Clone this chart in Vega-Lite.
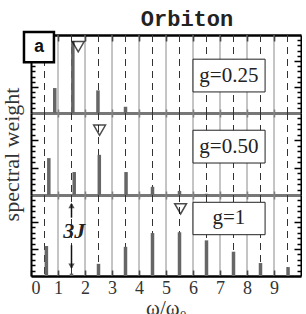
{
  "$schema": "https://vega.github.io/schema/vega-lite/v6.json",
  "background": "white",
  "padding": {"left": 0, "top": 7, "right": 0, "bottom": 0},
  "spacing": 0,
  "bounds": "flush",
  "title": {"text": "Orbiton", "font": "Liberation Mono", "fontWeight": "bold", "fontSize": 22, "color": "#222", "anchor": "middle", "offset": 0, "dx": 36},
  "config": {
    "view": {"stroke": null},
    "axis": {"labelFont": "Liberation Serif", "titleFont": "Liberation Serif", "titleFontWeight": "normal", "grid": false, "labelColor": "#333", "titleColor": "#333", "minExtent": 0}
  },
  "datasets": {
    "bars": [
      {"g": "0.25", "w": 0.88, "s": 0.32}, {"g": "0.25", "w": 1.55, "s": 0.92}, {"g": "0.25", "w": 2.48, "s": 0.29}, {"g": "0.25", "w": 3.5, "s": 0.08},
      {"g": "0.50", "w": 0.66, "s": 0.45}, {"g": "0.50", "w": 1.6, "s": 0.28}, {"g": "0.50", "w": 2.53, "s": 0.49}, {"g": "0.50", "w": 3.52, "s": 0.28}, {"g": "0.50", "w": 4.5, "s": 0.1}, {"g": "0.50", "w": 5.5, "s": 0.05}, {"g": "0.50", "w": 6.5, "s": 0.015},
      {"g": "1", "w": 0.57, "s": 0.37}, {"g": "1", "w": 1.5, "s": 0.03}, {"g": "1", "w": 2.5, "s": 0.15}, {"g": "1", "w": 3.5, "s": 0.36}, {"g": "1", "w": 4.5, "s": 0.53}, {"g": "1", "w": 5.5, "s": 0.54}, {"g": "1", "w": 6.5, "s": 0.44}, {"g": "1", "w": 7.5, "s": 0.3}, {"g": "1", "w": 8.5, "s": 0.16}, {"g": "1", "w": 9.52, "s": 0.11}
    ],
    "lines": [
      {"w": 0.5, "kind": "half"}, {"w": 1, "kind": "integer"}, {"w": 1.5, "kind": "half"}, {"w": 2, "kind": "integer"}, {"w": 2.5, "kind": "half"}, {"w": 3, "kind": "integer"}, {"w": 3.5, "kind": "half"}, {"w": 4, "kind": "integer"}, {"w": 4.5, "kind": "half"}, {"w": 5, "kind": "integer"}, {"w": 5.5, "kind": "half"}, {"w": 6, "kind": "integer"}, {"w": 6.5, "kind": "half"}, {"w": 7, "kind": "integer"}, {"w": 7.5, "kind": "half"}, {"w": 8, "kind": "integer"}, {"w": 8.5, "kind": "half"}, {"w": 9, "kind": "integer"}, {"w": 9.5, "kind": "half"}
    ],
    "peaks": [
      {"g": "0.25", "w": 1.75, "s": 0.85},
      {"g": "0.50", "w": 2.54, "s": 0.79},
      {"g": "1", "w": 5.54, "s": 0.83}
    ]
  },
  "vconcat": [
    {
      "width": 270, "height": 78,
      "layer": [
        {"data": {"name": "lines"}, "mark": {"type": "rule", "strokeWidth": 1},
         "encoding": {
           "x": {"field": "w", "type": "quantitative", "scale": {"domain": [0, 10], "nice": false},
                 "axis": {"orient": "bottom", "values": [1,2,3,4,5,6,7,8,9], "tickSize": -4, "tickColor": "#777", "tickWidth": 1.5, "labels": false, "domainColor": "#777", "domainWidth": 3, "title": null}},
           "color": {"field": "kind", "type": "nominal", "scale": {"domain": ["integer", "half"], "range": ["#8a8a8a", "#333333"]}, "legend": null},
           "strokeDash": {"field": "kind", "type": "nominal", "scale": {"domain": ["integer", "half"], "range": [[1, 0], [7, 5]]}, "legend": null}}},
        {"data": {"name": "bars"}, "transform": [{"filter": "datum.g === '0.25'"}],
         "mark": {"type": "rule", "color": "#666666", "strokeWidth": 3.5},
         "encoding": {
           "x": {"field": "w", "type": "quantitative", "scale": {"domain": [0, 10], "nice": false},
                 "axis": {"orient": "top", "values": [1,2,3,4,5,6,7,8,9], "tickSize": -6, "tickColor": "black", "tickWidth": 1.5, "labels": false, "domainColor": "black", "domainWidth": 2.5, "title": null}},
           "y": {"field": "s", "type": "quantitative", "scale": {"domain": [0, 1], "nice": false},
                 "axis": {"orient": "left", "values": [0.0667,0.1333,0.2,0.2667,0.3333,0.4,0.4667,0.5333,0.6,0.6667,0.7333,0.8,0.8667,0.9333], "tickSize": {"condition": {"test": "abs(datum.value*3 - round(datum.value*3)) < 0.01", "value": -7}, "value": -4}, "tickColor": "black", "tickWidth": 1.5, "labels": false, "domainColor": "black", "domainWidth": 2, "title": null}},
           "y2": {"datum": 0}}},
        {"data": {"name": "peaks"}, "transform": [{"filter": "datum.g === '0.25'"}],
         "mark": {"type": "point", "shape": "triangle-down", "size": 140, "filled": false, "stroke": "black", "strokeWidth": 1.5},
         "encoding": {
           "x": {"field": "w", "type": "quantitative", "scale": {"domain": [0, 10], "nice": false}, "axis": null},
           "y": {"field": "s", "type": "quantitative", "scale": {"domain": [0, 1], "nice": false},
                 "axis": {"orient": "right", "values": [0.0667,0.1333,0.2,0.2667,0.3333,0.4,0.4667,0.5333,0.6,0.6667,0.7333,0.8,0.8667,0.9333], "tickSize": {"condition": {"test": "abs(datum.value*3 - round(datum.value*3)) < 0.01", "value": -7}, "value": -4}, "tickColor": "black", "tickWidth": 1.5, "labels": false, "domainColor": "black", "domainWidth": 2, "title": null}}}},
        {"data": {"values": [{"label": "g=0.25"}]},
         "mark": {"type": "rect", "fill": "white", "stroke": "#222", "strokeWidth": 1},
         "encoding": {"x": {"datum": 6.0, "type": "quantitative", "scale": {"domain": [0, 10]}, "axis": null}, "x2": {"datum": 8.67}, "y": {"datum": 0.27, "type": "quantitative", "scale": {"domain": [0, 1]}, "axis": null}, "y2": {"datum": 0.69}}},
        {"data": {"values": [{"label": "g=0.25"}]},
         "mark": {"type": "text", "font": "Liberation Serif", "fontSize": 21, "color": "#222", "align": "center", "baseline": "middle"},
         "encoding": {"x": {"datum": 7.33, "type": "quantitative", "scale": {"domain": [0, 10]}, "axis": null}, "y": {"datum": 0.48, "type": "quantitative", "scale": {"domain": [0, 1]}, "axis": null}, "text": {"field": "label"}}},
        {"data": {"values": [{"label": "a"}]},
         "mark": {"type": "rect", "fill": "white", "stroke": "black", "strokeWidth": 2.5},
         "encoding": {"x": {"datum": -0.26, "type": "quantitative", "scale": {"domain": [0, 10]}, "axis": null}, "x2": {"datum": 0.85}, "y": {"datum": 0.65, "type": "quantitative", "scale": {"domain": [0, 1]}, "axis": null}, "y2": {"datum": 1.04}}},
        {"data": {"values": [{"label": "a"}]},
         "mark": {"type": "text", "font": "Liberation Mono", "fontWeight": "bold", "fontSize": 18, "color": "#111", "align": "center", "baseline": "middle"},
         "encoding": {"x": {"datum": 0.3, "type": "quantitative", "scale": {"domain": [0, 10]}, "axis": null}, "y": {"datum": 0.84, "type": "quantitative", "scale": {"domain": [0, 1]}, "axis": null}, "text": {"field": "label"}}}
      ]
    },
    {
      "width": 270, "height": 82,
      "layer": [
        {"data": {"name": "lines"}, "mark": {"type": "rule", "strokeWidth": 1},
         "encoding": {
           "x": {"field": "w", "type": "quantitative", "scale": {"domain": [0, 10], "nice": false},
                 "axis": {"orient": "bottom", "values": [1,2,3,4,5,6,7,8,9], "tickSize": -4, "tickColor": "#777", "tickWidth": 1.5, "labels": false, "domainColor": "#777", "domainWidth": 3, "title": null}},
           "color": {"field": "kind", "type": "nominal", "scale": {"domain": ["integer", "half"], "range": ["#8a8a8a", "#333333"]}, "legend": null},
           "strokeDash": {"field": "kind", "type": "nominal", "scale": {"domain": ["integer", "half"], "range": [[1, 0], [7, 5]]}, "legend": null}}},
        {"data": {"name": "bars"}, "transform": [{"filter": "datum.g === '0.50'"}],
         "mark": {"type": "rule", "color": "#666666", "strokeWidth": 3.5},
         "encoding": {
           "x": {"field": "w", "type": "quantitative", "scale": {"domain": [0, 10], "nice": false},
                 "axis": {"orient": "top", "values": [1,2,3,4,5,6,7,8,9], "tickSize": -4, "tickColor": "#777", "tickWidth": 1.5, "labels": false, "domain": false, "title": null}},
           "y": {"field": "s", "type": "quantitative", "scale": {"domain": [0, 1], "nice": false},
                 "axis": {"orient": "left", "values": [0.0667,0.1333,0.2,0.2667,0.3333,0.4,0.4667,0.5333,0.6,0.6667,0.7333,0.8,0.8667,0.9333], "tickSize": {"condition": {"test": "abs(datum.value*3 - round(datum.value*3)) < 0.01", "value": -7}, "value": -4}, "tickColor": "black", "tickWidth": 1.5, "labels": false, "domainColor": "black", "domainWidth": 2, "title": "spectral weight", "titleFontSize": 22, "titlePadding": 7}},
           "y2": {"datum": 0}}},
        {"data": {"name": "peaks"}, "transform": [{"filter": "datum.g === '0.50'"}],
         "mark": {"type": "point", "shape": "triangle-down", "size": 140, "filled": false, "stroke": "black", "strokeWidth": 1.5},
         "encoding": {
           "x": {"field": "w", "type": "quantitative", "scale": {"domain": [0, 10], "nice": false}, "axis": null},
           "y": {"field": "s", "type": "quantitative", "scale": {"domain": [0, 1], "nice": false},
                 "axis": {"orient": "right", "values": [0.0667,0.1333,0.2,0.2667,0.3333,0.4,0.4667,0.5333,0.6,0.6667,0.7333,0.8,0.8667,0.9333], "tickSize": {"condition": {"test": "abs(datum.value*3 - round(datum.value*3)) < 0.01", "value": -7}, "value": -4}, "tickColor": "black", "tickWidth": 1.5, "labels": false, "domainColor": "black", "domainWidth": 2, "title": null}}}},
        {"data": {"values": [{"label": "g=0.50"}]},
         "mark": {"type": "rect", "fill": "white", "stroke": "#222", "strokeWidth": 1},
         "encoding": {"x": {"datum": 6.0, "type": "quantitative", "scale": {"domain": [0, 10]}, "axis": null}, "x2": {"datum": 8.67}, "y": {"datum": 0.39, "type": "quantitative", "scale": {"domain": [0, 1]}, "axis": null}, "y2": {"datum": 0.79}}},
        {"data": {"values": [{"label": "g=0.50"}]},
         "mark": {"type": "text", "font": "Liberation Serif", "fontSize": 21, "color": "#222", "align": "center", "baseline": "middle"},
         "encoding": {"x": {"datum": 7.33, "type": "quantitative", "scale": {"domain": [0, 10]}, "axis": null}, "y": {"datum": 0.59, "type": "quantitative", "scale": {"domain": [0, 1]}, "axis": null}, "text": {"field": "label"}}}
      ]
    },
    {
      "width": 270, "height": 81,
      "layer": [
        {"data": {"name": "lines"}, "mark": {"type": "rule", "strokeWidth": 1},
         "encoding": {
           "x": {"field": "w", "type": "quantitative", "scale": {"domain": [0, 10], "nice": false},
                 "axis": {"orient": "bottom", "values": [0,1,2,3,4,5,6,7,8,9], "tickSize": -6, "tickColor": "black", "tickWidth": 1.5, "labelPadding": 9, "labelFontSize": 18, "domainColor": "black", "domainWidth": 2.5, "title": "ω/ω₀", "titleFontSize": 21, "titlePadding": 0}},
           "color": {"field": "kind", "type": "nominal", "scale": {"domain": ["integer", "half"], "range": ["#8a8a8a", "#333333"]}, "legend": null},
           "strokeDash": {"field": "kind", "type": "nominal", "scale": {"domain": ["integer", "half"], "range": [[1, 0], [7, 5]]}, "legend": null}}},
        {"data": {"name": "bars"}, "transform": [{"filter": "datum.g === '1'"}],
         "mark": {"type": "rule", "color": "#666666", "strokeWidth": 3.5},
         "encoding": {
           "x": {"field": "w", "type": "quantitative", "scale": {"domain": [0, 10], "nice": false},
                 "axis": {"orient": "top", "values": [1,2,3,4,5,6,7,8,9], "tickSize": -4, "tickColor": "#777", "tickWidth": 1.5, "labels": false, "domain": false, "title": null}},
           "y": {"field": "s", "type": "quantitative", "scale": {"domain": [0, 1], "nice": false},
                 "axis": {"orient": "left", "values": [0.0667,0.1333,0.2,0.2667,0.3333,0.4,0.4667,0.5333,0.6,0.6667,0.7333,0.8,0.8667,0.9333], "tickSize": {"condition": {"test": "abs(datum.value*3 - round(datum.value*3)) < 0.01", "value": -7}, "value": -4}, "tickColor": "black", "tickWidth": 1.5, "labels": false, "domainColor": "black", "domainWidth": 2, "title": null}},
           "y2": {"datum": 0}}},
        {"data": {"name": "peaks"}, "transform": [{"filter": "datum.g === '1'"}],
         "mark": {"type": "point", "shape": "triangle-down", "size": 140, "filled": false, "stroke": "black", "strokeWidth": 1.5},
         "encoding": {
           "x": {"field": "w", "type": "quantitative", "scale": {"domain": [0, 10], "nice": false}, "axis": null},
           "y": {"field": "s", "type": "quantitative", "scale": {"domain": [0, 1], "nice": false},
                 "axis": {"orient": "right", "values": [0.0667,0.1333,0.2,0.2667,0.3333,0.4,0.4667,0.5333,0.6,0.6667,0.7333,0.8,0.8667,0.9333], "tickSize": {"condition": {"test": "abs(datum.value*3 - round(datum.value*3)) < 0.01", "value": -7}, "value": -4}, "tickColor": "black", "tickWidth": 1.5, "labels": false, "domainColor": "black", "domainWidth": 2, "title": null}}}},
        {"data": {"values": [{"label": "g=1"}]},
         "mark": {"type": "rect", "fill": "white", "stroke": "#222", "strokeWidth": 1},
         "encoding": {"x": {"datum": 6.0, "type": "quantitative", "scale": {"domain": [0, 10]}, "axis": null}, "x2": {"datum": 8.67}, "y": {"datum": 0.51, "type": "quantitative", "scale": {"domain": [0, 1]}, "axis": null}, "y2": {"datum": 0.91}}},
        {"data": {"values": [{"label": "g=1"}]},
         "mark": {"type": "text", "font": "Liberation Serif", "fontSize": 21, "color": "#222", "align": "center", "baseline": "middle"},
         "encoding": {"x": {"datum": 7.33, "type": "quantitative", "scale": {"domain": [0, 10]}, "axis": null}, "y": {"datum": 0.71, "type": "quantitative", "scale": {"domain": [0, 1]}, "axis": null}, "text": {"field": "label"}}},
        {"data": {"values": [{"part": "upper"}]},
         "mark": {"type": "rule", "color": "#111", "strokeWidth": 1.5},
         "encoding": {"x": {"datum": 1.5, "type": "quantitative", "scale": {"domain": [0, 10]}, "axis": null}, "y": {"datum": 0.89, "type": "quantitative", "scale": {"domain": [0, 1]}, "axis": null}, "y2": {"datum": 0.72}}},
        {"data": {"values": [{"part": "lower"}]},
         "mark": {"type": "rule", "color": "#111", "strokeWidth": 1.5},
         "encoding": {"x": {"datum": 1.5, "type": "quantitative", "scale": {"domain": [0, 10]}, "axis": null}, "y": {"datum": 0.38, "type": "quantitative", "scale": {"domain": [0, 1]}, "axis": null}, "y2": {"datum": 0.1}}},
        {"data": {"values": [{"part": "up"}]},
         "mark": {"type": "point", "shape": "triangle-up", "size": 40, "filled": true, "color": "#111"},
         "encoding": {"x": {"datum": 1.5, "type": "quantitative", "scale": {"domain": [0, 10]}, "axis": null}, "y": {"datum": 0.87, "type": "quantitative", "scale": {"domain": [0, 1]}, "axis": null}}},
        {"data": {"values": [{"part": "down"}]},
         "mark": {"type": "point", "shape": "triangle-down", "size": 40, "filled": true, "color": "#111"},
         "encoding": {"x": {"datum": 1.5, "type": "quantitative", "scale": {"domain": [0, 10]}, "axis": null}, "y": {"datum": 0.12, "type": "quantitative", "scale": {"domain": [0, 1]}, "axis": null}}},
        {"data": {"values": [{"label": "3J"}]},
         "mark": {"type": "text", "font": "Liberation Serif", "fontStyle": "italic", "fontWeight": "bold", "fontSize": 22, "color": "#222", "align": "center", "baseline": "middle"},
         "encoding": {"x": {"datum": 1.6, "type": "quantitative", "scale": {"domain": [0, 10]}, "axis": null}, "y": {"datum": 0.56, "type": "quantitative", "scale": {"domain": [0, 1]}, "axis": null}, "text": {"field": "label"}}}
      ]
    }
  ]
}
